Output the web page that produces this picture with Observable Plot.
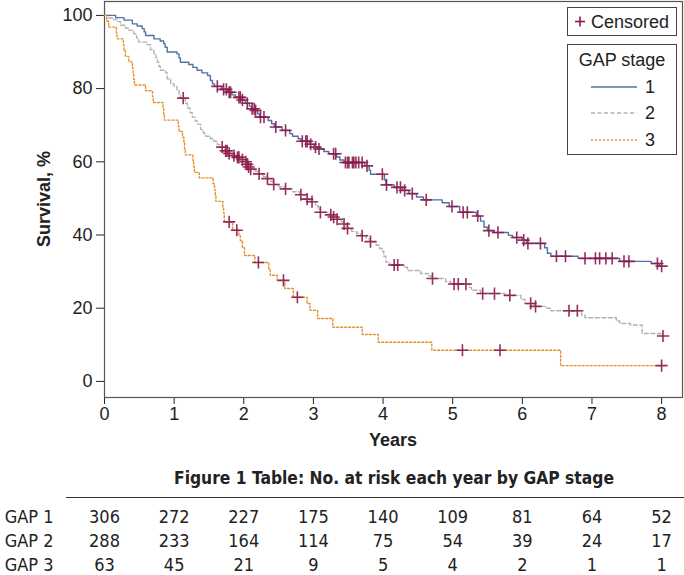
<!DOCTYPE html>
<html><head><meta charset="utf-8">
<script src="https://cdn.jsdelivr.net/npm/d3@7"></script>
<script src="https://cdn.jsdelivr.net/npm/@observablehq/plot@0.6"></script>
<style>
body{margin:0;background:#fff;font-family:"Liberation Sans",Arial,Helvetica,sans-serif;color:#222;}
#wrap{position:relative;width:684px;height:575px;overflow:hidden;background:#fff;}
#wrap > *{position:absolute;}
.ttl{font-weight:bold;font-size:18px;color:#222;white-space:nowrap;}
</style></head><body><div id="wrap"></div>
<script>
// ---------- data ----------
const yearTicks = [0,1,2,3,4,5,6,7,8];
const survTicks = [0,20,40,60,80,100];

const gap1Time = [0,0.16,0.28,0.40,0.47,0.54,0.57,0.59,0.71,0.80,0.85,0.87,0.90,1.04,1.07,1.09,1.21,1.27,1.33,1.40,1.48,1.52,1.55,1.58,1.68,1.77,1.83,1.88,1.96,2.02,2.08,2.11,2.16,2.20,2.23,2.35,2.40,2.44,2.55,2.66,2.70,2.78,2.82,2.94,3.01,3.06,3.15,3.22,3.33,3.38,3.44,3.74,3.80,3.82,4.02,4.04,4.16,4.28,4.37,4.48,4.58,4.85,4.95,5.10,5.34,5.40,5.45,5.50,5.58,5.80,5.86,6.00,6.06,6.32,6.36,6.41,6.80,7.40,7.85,7.97,8.00];
const gap1Surv = [100,99.4,98.7,97.7,97.1,96.4,95.5,94.5,93.6,93.0,92.3,91.3,90.0,89.5,88.4,87.2,86.6,85.8,85.0,84.3,83.6,82.2,81.3,80.6,79.8,79.0,78.3,77.6,76.9,76.0,75.2,74.5,74.0,73.1,72.2,71.3,70.4,69.5,68.6,67.7,67.0,66.3,65.6,64.8,64.0,63.5,62.8,62.2,61.3,60.5,59.8,58.9,57.7,56.6,55.0,53.7,53.0,52.2,51.3,50.4,49.6,48.8,47.8,46.2,45.2,43.8,42.1,41.2,40.7,39.9,39.3,38.6,37.7,36.5,35.0,34.2,33.6,32.8,32.2,31.5,31.5];

const gap2Time = [0,0.05,0.12,0.18,0.23,0.30,0.35,0.42,0.46,0.49,0.61,0.66,0.71,0.74,0.76,0.78,0.80,0.88,0.90,0.95,1.00,1.04,1.07,1.09,1.16,1.19,1.23,1.26,1.30,1.33,1.38,1.42,1.45,1.52,1.57,1.62,1.66,1.72,1.78,1.84,1.90,1.95,2.01,2.04,2.06,2.09,2.14,2.20,2.28,2.33,2.38,2.42,2.50,2.58,2.70,2.80,2.88,2.95,3.03,3.07,3.10,3.23,3.27,3.33,3.40,3.43,3.47,3.55,3.62,3.68,3.76,3.81,3.90,3.95,3.99,4.01,4.04,4.10,4.30,4.35,4.54,4.65,4.70,4.90,4.97,5.24,5.27,5.40,5.75,5.98,6.04,6.17,6.35,6.41,6.85,6.90,7.35,7.40,7.55,7.72,7.99,8.02];
const gap2Surv = [100,99.3,98.9,98.3,97.3,96.5,95.9,95.0,93.8,92.7,92.0,90.6,89.5,88.4,87.2,86.1,85.0,84.3,82.7,81.3,80.6,79.7,78.6,77.4,76.0,74.7,73.4,72.2,71.2,70.3,68.8,67.8,67.0,66.3,65.6,64.7,64.0,63.0,62.3,61.7,61.2,60.6,60.0,59.3,58.6,58.0,57.4,56.7,56.0,55.4,54.7,53.8,53.2,52.6,51.8,51.0,49.8,49.1,48.0,47.0,46.2,45.5,44.9,44.3,43.6,43.0,41.8,41.0,40.4,39.8,39.0,38.2,37.2,36.3,35.6,34.2,32.6,31.8,31.2,30.3,29.5,28.8,28.1,27.3,26.6,25.7,24.9,24.0,23.5,22.4,21.3,20.5,20.0,19.3,18.1,17.4,16.5,15.8,15.4,13.1,12.4,12.4];

const gap3Time = [0,0.03,0.06,0.17,0.18,0.27,0.28,0.30,0.35,0.40,0.41,0.42,0.43,0.59,0.69,0.70,0.84,0.85,0.86,1.06,1.07,1.12,1.14,1.15,1.16,1.27,1.28,1.29,1.36,1.56,1.58,1.59,1.60,1.70,1.71,1.72,1.84,1.93,1.95,1.98,2.01,2.16,2.36,2.38,2.48,2.59,2.71,2.91,2.95,3.06,3.28,3.70,3.93,4.70,6.55,8.00];
const gap3Surv = [100,98.4,96.8,95.2,93.6,92.0,90.4,88.8,87.3,85.7,84.1,82.5,81.0,79.4,77.8,76.2,74.6,73.0,71.4,69.8,68.3,66.7,65.1,63.5,61.9,60.3,58.7,57.1,55.6,54.0,52.4,50.8,49.2,47.6,46.0,43.6,41.3,39.9,38.5,36.5,34.4,32.5,30.8,29.0,27.6,25.4,23.0,21.3,19.4,17.2,14.8,12.8,10.7,8.5,4.3,4.3];

const gap1Censor = [1.62,1.71,1.75,1.79,1.81,1.93,1.95,1.98,2.05,2.12,2.15,2.17,2.24,2.29,2.46,2.60,2.84,2.89,2.91,2.96,3.03,3.08,3.29,3.32,3.46,3.49,3.51,3.56,3.58,3.61,3.65,3.70,3.77,3.99,4.05,4.20,4.25,4.31,4.42,4.62,4.99,5.15,5.21,5.36,5.52,5.65,5.92,6.02,6.08,6.26,6.49,6.62,6.90,7.05,7.11,7.20,7.29,7.46,7.53,7.94,8.00];
const gap2Censor = [1.13,1.69,1.74,1.76,1.79,1.86,1.91,1.93,1.98,2.03,2.05,2.07,2.10,2.22,2.34,2.43,2.60,2.82,2.91,2.98,3.10,3.25,3.29,3.34,3.44,3.49,3.70,3.82,4.16,4.21,4.71,5.02,5.08,5.19,5.43,5.60,5.82,6.12,6.19,6.67,6.79,8.02];
const gap3Censor = [1.79,1.90,2.21,2.57,2.77,5.14,5.68,8.00];

const stages = ["1","2","3"];
const riskRows = ["GAP 1","GAP 2","GAP 3"];
const riskGap1 = [306,272,227,175,140,109,81,64,52];
const riskGap2 = [288,233,164,114,75,54,39,24,17];
const riskGap3 = [63,45,21,9,5,4,2,1,1];

// ---------- styles ----------
const FONT = '"Liberation Sans", Arial, Helvetica, sans-serif';
// condensed face for the at-risk table if one is installed
function hasFont(name){
  const c = document.createElement("canvas").getContext("2d");
  const s = "GAP 1 Table 306 mmmwwwiii";
  c.font = "40px monospace"; const a = c.measureText(s).width;
  c.font = `40px "${name}", monospace`; const b = c.measureText(s).width;
  return Math.abs(a - b) > 0.5;
}
let TFONT = FONT, TSIZE = 18, TTSIZE = 18.5;
for (const nm of ["Liberation Sans Narrow", "Arial Narrow", "Nimbus Sans Narrow", "DejaVu Sans Condensed"]) {
  if (hasFont(nm)) {
    TFONT = `"${nm}", ` + FONT;
    if (nm.startsWith("DejaVu")) { TSIZE = 18; TTSIZE = 17.3; } else { TSIZE = 22; TTSIZE = 22; }
    break;
  }
}

const style = {
  "1": {stroke:"#4f72a8", dash:null},
  "2": {stroke:"#b3b3b3", dash:"4,2.5"},
  "3": {stroke:"#e8902f", dash:"2,2"}
};
const censorColor = "#8a1a4a";

// ---------- build tables ----------
const curves = [
  {stage:"1", t:gap1Time, s:gap1Surv, c:gap1Censor},
  {stage:"2", t:gap2Time, s:gap2Surv, c:gap2Censor},
  {stage:"3", t:gap3Time, s:gap3Surv, c:gap3Censor}
];
function survAt(times, surv, x){ let v = surv[0]; for(let i=0;i<times.length;i++){ if(times[i] <= x + 1e-9) v = surv[i]; } return v; }
const lineData = {};
const censorData = [];
for(const cv of curves){
  lineData[cv.stage] = cv.t.map((t,i)=>({time:t, surv:cv.s[i], stage:cv.stage}));
  for(const x of cv.c) censorData.push({time:x, surv:survAt(cv.t, cv.s, x), stage:cv.stage});
}
const riskData = [];
[riskGap1, riskGap2, riskGap3].forEach((arr,r)=>arr.forEach((n,i)=>riskData.push({row:riskRows[r], year:yearTicks[i], n})));

// ---------- main chart ----------
const W = 684;
const main = Plot.plot({
  width: W, height: 430,
  marginLeft: 104, marginRight: 2, marginTop: 1, marginBottom: 33,
  style: {fontFamily: FONT, fontSize: "18px", color: "#222", background: "transparent", overflow: "visible"},
  x: {domain:[0, 8.3], ticks: yearTicks, tickSize: 7, tickPadding: 3, label: null, tickFormat: d3.format("d")},
  y: {domain:[-4.4, 103.8], ticks: survTicks, tickSize: 8, tickPadding: 4, label: null},
  marks: [
    Plot.frame({stroke:"#555", strokeWidth:1.2}),
    ...["2","1","3"].map(k => Plot.line(lineData[k], {x:"time", y:"surv", curve:"step-after", stroke: style[k].stroke, strokeWidth:1.4, strokeDasharray: style[k].dash || undefined})),
    Plot.dot(censorData, {x:"time", y:"surv", symbol:"plus", r:4, stroke: censorColor, strokeWidth:1.6, strokeOpacity:0.9})
  ]
});
main.style.left = "0px"; main.style.top = "0px";

// ---------- at-risk table ----------
const table = Plot.plot({
  width: W, height: 78,
  marginLeft: 104, marginRight: 2, marginTop: 0, marginBottom: 0,
  style: {fontFamily: TFONT, fontSize: TSIZE + "px", color: "#222", background: "transparent", overflow:"visible"},
  x: {domain:[0, 8.3], axis: null},
  y: {type:"point", domain: riskRows, range:[20, 68], padding: 0, tickSize: 0, tickPadding: 51, label: null},
  marks: [
    Plot.text(riskData, {x:"year", y:"row", text:"n", fontSize:TSIZE, fill:"#222"})
  ]
});
table.style.left = "0px"; table.style.top = "497px";

const wrap = document.getElementById("wrap");
wrap.appendChild(main);

// axis titles
const yt = document.createElement("div");
yt.className = "ttl"; yt.textContent = "Survival, %";
yt.style.cssText += "left:44px;top:199px;transform:translate(-50%,-50%) rotate(-90deg);";
wrap.appendChild(yt);
const xt = document.createElement("div");
xt.className = "ttl"; xt.textContent = "Years";
xt.style.cssText += "left:393px;top:440px;transform:translate(-50%,-50%);";
wrap.appendChild(xt);

// table title + rule
const tt = document.createElement("div");
tt.className = "ttl"; tt.textContent = "Figure 1 Table: No. at risk each year by GAP stage";
tt.style.cssText += `left:394px;top:478px;transform:translate(-50%,-50%);font-family:${TFONT};font-size:${TTSIZE}px;`;
wrap.appendChild(tt);
const rule = document.createElement("div");
rule.style.cssText = "left:66px;top:497px;width:618px;height:0;border-top:1px solid #333;";
wrap.appendChild(rule);
wrap.appendChild(table);

// legends
const ns = "http://www.w3.org/2000/svg";
const leg = document.createElementNS(ns, "svg");
leg.setAttribute("width", 684); leg.setAttribute("height", 200);
leg.style.left = "0px"; leg.style.top = "0px"; leg.style.fontFamily = FONT;
function el(name, attrs, text){ const e = document.createElementNS(ns, name); for(const k in attrs) e.setAttribute(k, attrs[k]); if(text!=null) e.textContent = text; leg.appendChild(e); return e; }
el("rect", {x:567.5, y:7.5, width:109, height:28, fill:"#fff", stroke:"#444", "stroke-width":1});
el("line", {x1:575, x2:585, y1:21.5, y2:21.5, stroke:censorColor, "stroke-width":1.6});
el("line", {x1:580, x2:580, y1:16.5, y2:26.5, stroke:censorColor, "stroke-width":1.6});
el("text", {x:591, y:28, "font-size":18, fill:"#222"}, "Censored");
el("rect", {x:567.5, y:44.5, width:109, height:110, fill:"#fff", stroke:"#444", "stroke-width":1});
el("text", {x:622, y:65.5, "font-size":18, fill:"#222", "text-anchor":"middle"}, "GAP stage");
const legY = [87, 113, 140];
stages.forEach((k,i)=>{
  el("line", {x1:591, x2:637, y1:legY[i], y2:legY[i], stroke:style[k].stroke, "stroke-width":1.4, "stroke-dasharray": style[k].dash || "none"});
  el("text", {x:645, y:legY[i]+6, "font-size":18, fill:"#222"}, k);
});
wrap.appendChild(leg);
</script>
</body></html>
